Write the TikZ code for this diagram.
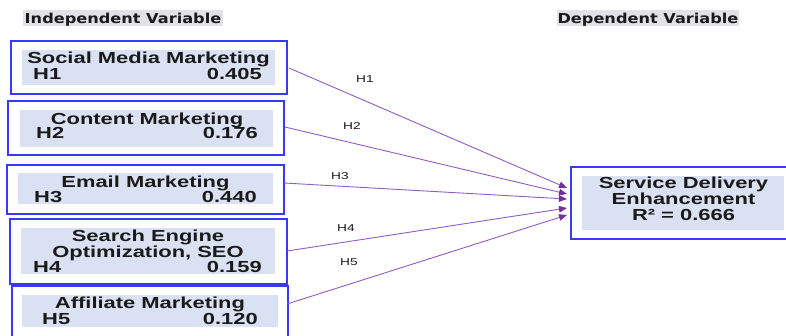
\documentclass[tikz,border=0pt]{standalone}
\usepackage{fontspec}
\usetikzlibrary{arrows.meta}
\newfontfamily\widesans[FakeStretch=1.37]{Liberation Sans}
\newfontfamily\headsans[FakeStretch=1.18]{DejaVu Sans}
\definecolor{boxblue}{HTML}{3838FF}
\definecolor{innerfill}{HTML}{D9E1F2}
\definecolor{headfill}{HTML}{E2E2E6}
\definecolor{pathline}{HTML}{8F5CC4}
\definecolor{pathtip}{HTML}{7030A0}
\definecolor{ink}{HTML}{1A1A1A}
\tikzset{
  outerbox/.style={draw=boxblue, line width=1.4pt, inner sep=0pt, outer sep=0pt, anchor=north west},
  innerbox/.style={fill=innerfill, inner sep=0pt, outer sep=0pt, anchor=north west},
  headbox/.style={fill=headfill, inner sep=0pt, outer sep=0pt, anchor=north west},
  title/.style={inner sep=0pt, anchor=base, text=ink, font=\widesans\bfseries\fontsize{16}{16}\selectfont},
  hlab/.style={inner sep=0pt, anchor=base west, text=ink, font=\widesans\bfseries\fontsize{16}{16}\selectfont},
  vlab/.style={inner sep=0pt, anchor=base east, text=ink, font=\widesans\bfseries\fontsize{16}{16}\selectfont},
  headtext/.style={inner sep=0pt, anchor=base, text=ink, font=\headsans\bfseries\fontsize{13.7}{13.7}\selectfont},
  pathlab/.style={inner sep=0pt, text=ink, font=\widesans\fontsize{10}{10}\selectfont},
  pathlink/.style={draw=pathline, line width=0.9pt, -{Triangle[length=8pt,width=6.5pt,color=pathtip,fill=pathtip]}},
}
\begin{document}
\begin{tikzpicture}[x=1pt,y=-1pt]
\useasboundingbox (0,0) rectangle (786,335);

% column headings
\node[headbox, minimum width=200pt, minimum height=16pt] (hind) at (23,10) {};
\node[headtext] (hindt) at (123,23) {Independent Variable};
\node[headbox, minimum width=182pt, minimum height=16pt] (hdep) at (557,10) {};
\node[headtext] (hdept) at (648,23) {Dependent Variable};

% Social Media Marketing
\node[outerbox, minimum width=276pt, minimum height=53pt] (b1) at (11,41) {};
\node[innerbox, minimum width=253pt, minimum height=35pt] (i1) at (22,50) {};
\node[title] (t1) at (148.5,63) {Social Media Marketing};
\node[hlab] (h1) at (33,79) {H1};
\node[vlab] (v1) at (262,79) {0.405};

% Content Marketing
\node[outerbox, minimum width=276pt, minimum height=54pt] (b2) at (8,101) {};
\node[innerbox, minimum width=253pt, minimum height=37pt] (i2) at (20,110) {};
\node[title] (t2) at (147,124) {Content Marketing};
\node[hlab] (h2) at (36,138) {H2};
\node[vlab] (v2) at (258,138) {0.176};

% Email Marketing
\node[outerbox, minimum width=277pt, minimum height=49pt] (b3) at (7,165) {};
\node[innerbox, minimum width=255pt, minimum height=31pt] (i3) at (18,173) {};
\node[title] (t3) at (145.5,187) {Email Marketing};
\node[hlab] (h3) at (34,202) {H3};
\node[vlab] (v3) at (257,202) {0.440};

% Search Engine Optimization
\node[outerbox, minimum width=277pt, minimum height=65pt] (b4) at (10,219) {};
\node[innerbox, minimum width=254pt, minimum height=46pt] (i4) at (21,228) {};
\node[title] (t4a) at (148,241) {Search Engine};
\node[title] (t4b) at (148,257) {Optimization, SEO};
\node[hlab] (h4) at (33,272) {H4};
\node[vlab] (v4) at (262,272) {0.159};

% Affiliate Marketing
\node[outerbox, minimum width=276pt, minimum height=60pt] (b5) at (12,286) {};
\node[innerbox, minimum width=256pt, minimum height=32pt] (i5) at (22,295) {};
\node[title] (t5) at (150,308) {Affiliate Marketing};
\node[hlab] (h5) at (42,324) {H5};
\node[vlab] (v5) at (258,324) {0.120};

% Service Delivery Enhancement
\node[outerbox, minimum width=219pt, minimum height=72pt] (d) at (571,167) {};
\node[innerbox, minimum width=202pt, minimum height=54pt] (di) at (582,176) {};
\node[title] (dt1) at (683.5,188) {Service Delivery};
\node[title] (dt2) at (683.5,204) {Enhancement};
\node[title] (dt3) at (683.5,220) {R² = 0.666};

% structural paths
\draw[pathlink] ([xshift=2pt,yshift=-0.5pt]b1.east) -- ([xshift=-4pt,yshift=15pt]d.west);
\draw[pathlink] ([xshift=1pt,yshift=1pt]b2.east) -- ([xshift=-4pt,yshift=9pt]d.west);
\draw[pathlink] ([yshift=6.5pt]b3.east) -- ([xshift=-4pt,yshift=4pt]d.west);
\draw[pathlink] ([yshift=0.5pt]b4.east) -- ([xshift=-4pt,yshift=-5pt]d.west);
\draw[pathlink] ([xshift=-1pt,yshift=12pt]b5.east) -- ([xshift=-4pt,yshift=-12pt]d.west);

% path labels
\node[pathlab] (l1) at (365,79.5) {H1};
\node[pathlab] (l2) at (352,126) {H2};
\node[pathlab] (l3) at (340,176) {H3};
\node[pathlab] (l4) at (346,228) {H4};
\node[pathlab] (l5) at (349,262) {H5};
\end{tikzpicture}
\end{document}
